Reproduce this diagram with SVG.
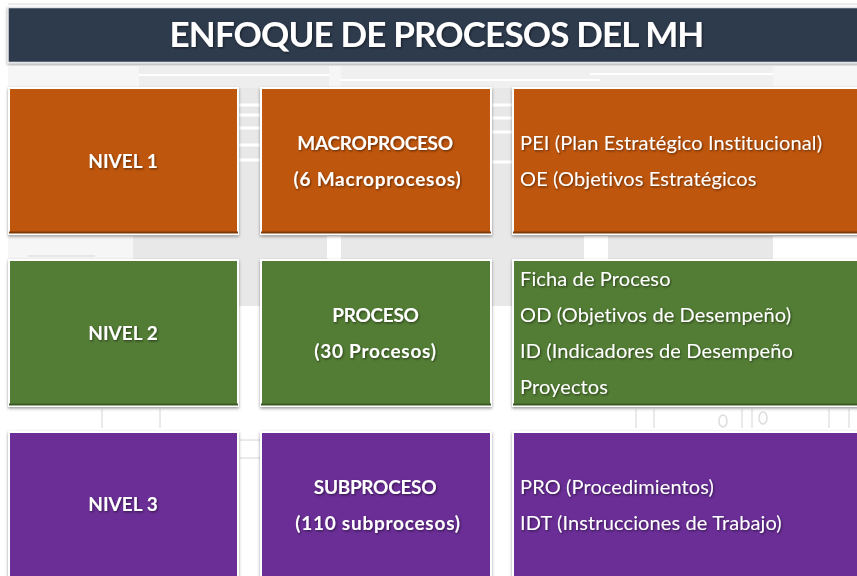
<svg xmlns="http://www.w3.org/2000/svg" width="857" height="576" viewBox="0 0 857 576">
<defs>
<filter id="ts" x="-10%" y="-30%" width="120%" height="170%"><feDropShadow dx="1" dy="1.2" stdDeviation="0.8" flood-color="#000" flood-opacity="0.5"/></filter>
<filter id="bs" x="-3%" y="-3%" width="106%" height="108%"><feDropShadow dx="0" dy="1.5" stdDeviation="1.5" flood-color="#000" flood-opacity="0.4"/></filter>
</defs>
<style>
text{font-family:"Lato","Carlito","Open Sans",sans-serif;fill:#fff}
.t{font-size:35px;font-weight:700;text-anchor:middle;filter:url(#ts);letter-spacing:-.85px}
.h{font-size:19px;font-weight:700;text-anchor:middle;filter:url(#ts)}
.c{letter-spacing:-.3px}
.n{letter-spacing:.75px}
.l{font-size:20px;font-weight:400;filter:url(#ts);letter-spacing:.12px}
.f{stroke:#fff;stroke-width:2;filter:url(#bs)}
.o{fill:#bf560e}.g{fill:#527d34}.p{fill:#6a2d96}
.b1{fill:#7f3a0a}.b2{fill:#3a5a25}.b3{fill:#4c206c}
.bg{fill:#e8e8e8}.ln{stroke:#d6d6d6;stroke-width:1;fill:none}
</style>
<rect width="857" height="576" fill="#fff"/>
<g id="background">
<rect x="8" y="3" width="849" height="2" fill="#ececec"/>
<rect x="8" y="66" width="849" height="22" fill="#f6f6f6"/>
<rect x="139" y="66" width="190" height="22" fill="#eeeeee"/>
<rect x="341" y="66" width="432" height="22" fill="#f0f0f0"/>
<rect x="238" y="88" width="23" height="218" class="bg"/>
<rect x="491" y="88" width="22" height="218" class="bg"/>
<rect x="8" y="236" width="849" height="24" class="bg"/>
<rect x="8" y="236" width="125" height="24" fill="#f6f6f6"/>
<rect x="327" y="236" width="14" height="24" fill="#fff"/>
<rect x="584" y="236" width="24" height="24" fill="#fff"/>
<rect x="773" y="236" width="84" height="24" fill="#fff"/>
<path class="ln" d="M28 256H95M102 409V428M160 409V428M240 440H260M240 458H260M636 409V428M654 409V428M742 409V428M752 409V428M829 409V428M849 409V428"/>
<path d="M238 105H261M238 115H261M238 128H261M238 145H261M238 160H261M491 105H513M491 118H513M491 132H513M491 162H513" stroke="#fff" stroke-width="3"/>
<path d="M139 75H329M340 80H600M590 74H773" stroke="#fff" stroke-width="2"/>
<ellipse cx="723" cy="421" rx="4" ry="6" fill="none" stroke="#ddd" stroke-width="1.500"/>
<ellipse cx="763" cy="418" rx="4" ry="6" fill="none" stroke="#ddd" stroke-width="1.500"/>
</g>
<g id="title"><rect x="8" y="7.500" width="851" height="55" fill="#2f3b4e" stroke="#e4e6ea" stroke-width="1.500" filter="url(#bs)"/><text class="t" x="436.500" y="46.500">ENFOQUE DE PROCESOS DEL MH</text></g>
<g id="nivel1"><rect class="f o" x="9" y="88" width="229" height="146"/><rect class="b1" x="9" y="231.500" width="229" height="2"/><text class="h" x="123" y="168">NIVEL 1</text></g>
<g id="macroproceso"><rect class="f o" x="261" y="88" width="230" height="146"/><rect class="b1" x="261" y="231.500" width="230" height="2"/><text class="h c" x="375" y="149.500">MACROPROCESO</text><text class="h n" x="377.500" y="186">(6 Macroprocesos)</text></g>
<g id="nivel1-detalle"><rect class="f o" x="513" y="88" width="346" height="146"/><rect class="b1" x="513" y="231.500" width="344" height="2"/><text class="l" x="520" y="150">PEI (Plan Estratégico Institucional)</text><text class="l" x="520" y="186">OE (Objetivos Estratégicos</text></g>
<g id="nivel2"><rect class="f g" x="9" y="260" width="229" height="146"/><rect class="b2" x="9" y="403.500" width="229" height="2"/><text class="h" x="123" y="340">NIVEL 2</text></g>
<g id="proceso"><rect class="f g" x="261" y="260" width="230" height="146"/><rect class="b2" x="261" y="403.500" width="230" height="2"/><text class="h c" x="375.500" y="321.500">PROCESO</text><text class="h n" x="375.500" y="358">(30 Procesos)</text></g>
<g id="nivel2-detalle"><rect class="f g" x="513" y="260" width="346" height="146"/><rect class="b2" x="513" y="403.500" width="344" height="2"/><text class="l" x="520" y="286">Ficha de Proceso</text><text class="l" x="520" y="322">OD (Objetivos de Desempeño)</text><text class="l" x="520" y="358">ID (Indicadores de Desempeño</text><text class="l" x="520" y="394">Proyectos</text></g>
<g id="nivel3"><rect class="f p" x="9" y="432" width="229" height="148"/><text class="h" x="123" y="511">NIVEL 3</text></g>
<g id="subproceso"><rect class="f p" x="261" y="432" width="230" height="148"/><text class="h c" x="375" y="493.500">SUBPROCESO</text><text class="h n" x="378" y="530">(110 subprocesos)</text></g>
<g id="nivel3-detalle"><rect class="f p" x="513" y="432" width="346" height="148"/><text class="l" x="520" y="494">PRO (Procedimientos)</text><text class="l" x="520" y="530">IDT (Instrucciones de Trabajo)</text></g>
<g id="connectors"/>
</svg>
